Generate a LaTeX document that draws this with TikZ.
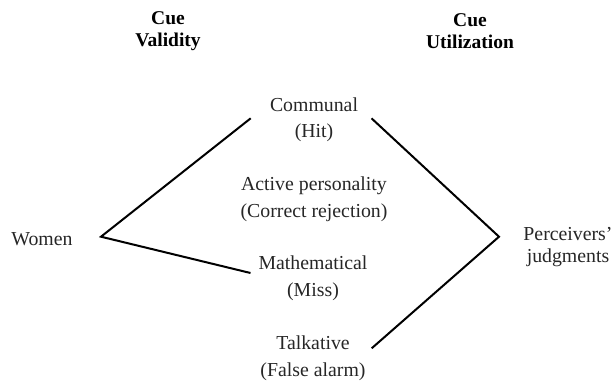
\documentclass[tikz,border=0pt]{standalone}
\usepackage{fontspec}
\setmainfont{Liberation Serif}
\begin{document}
\begin{tikzpicture}[x=1pt,y=-1pt,
  lbl/.style={align=center,inner sep=0pt,text=black!85,font=\fontsize{19.8}{26.5}\selectfont},
  lbltight/.style={align=center,inner sep=0pt,text=black!85,font=\fontsize{19.8}{22}\selectfont},
  hdr/.style={align=center,inner sep=0pt,text=black,font=\fontsize{19.5}{22}\selectfont\bfseries},
  link/.style={line width=2pt,black}]
\useasboundingbox (0,0) rectangle (614,381);
\node[hdr] (cv) at (168,31) {Cue\\Validity};
\node[hdr] (cu) at (470,31) {Cue\\Utilization};
\node[lbl] (comm) at (314,119.5) {Communal\\(Hit)};
\node[lbl] (act) at (314,199) {Active personality\\(Correct rejection)};
\node[lbl] (wom) at (42,239) {Women};
\node[lbl] (math) at (313,278) {Mathematical\\(Miss)};
\node[lbl] (talk) at (313,358) {Talkative\\(False alarm)};
\node[lbltight] (perc) at (568,247) {Perceivers'\\judgments};
\coordinate (wv) at (101,236.7);
\coordinate (pv) at (499,236.7);
\coordinate (commL) at (250.7,118.3);
\coordinate (commR) at (371.5,118.3);
\coordinate (mathL) at (250.5,273);
\coordinate (talkR) at (371.7,348.3);
\draw[link] (commL) -- (wv) -- (mathL);
\draw[link] (commR) -- (pv) -- (talkR);
\end{tikzpicture}
\end{document}
